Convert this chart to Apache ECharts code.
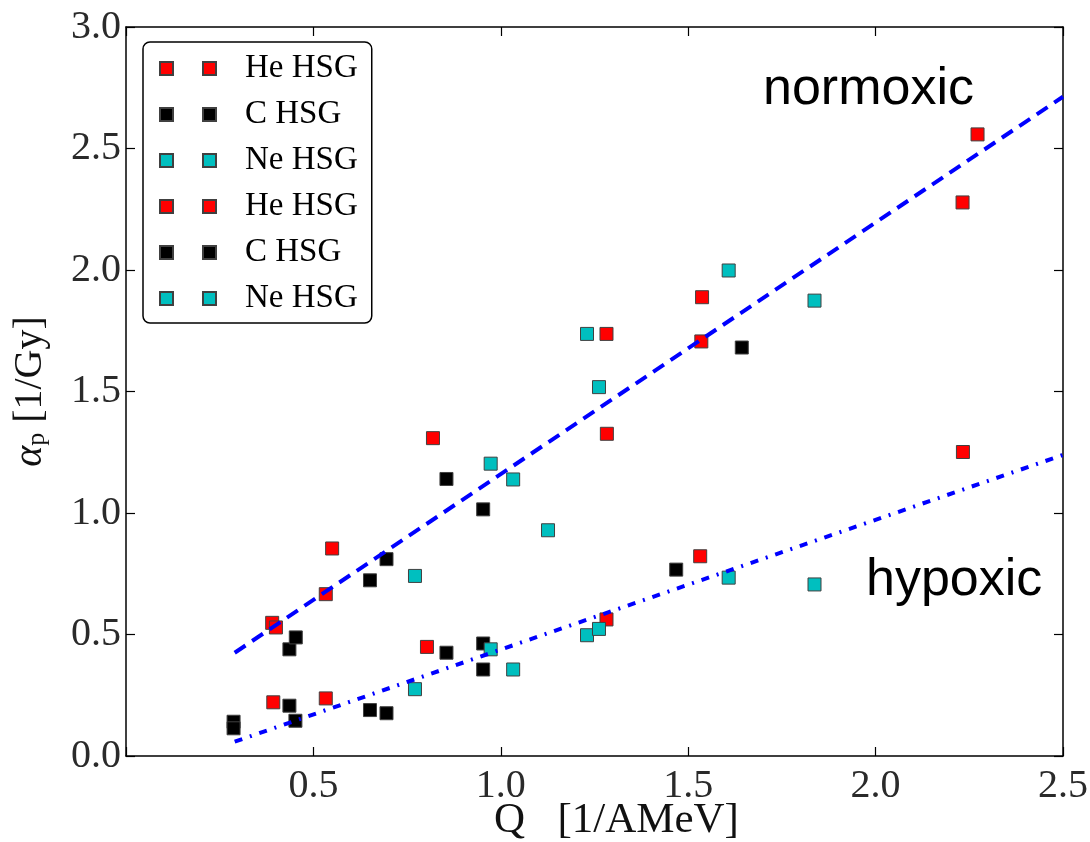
<!DOCTYPE html>
<html>
<head>
<meta charset="utf-8">
<script src="https://cdn.jsdelivr.net/npm/echarts@6/dist/echarts.min.js"></script>
<style>html,body{margin:0;padding:0;background:#fff}#c{width:1090px;height:842px}</style>
</head>
<body>
<div id="c"></div>
<script>
// ---- data ----
const heNormQ = [0.390, 0.400, 0.533, 0.550, 0.819, 1.282, 1.283, 1.535, 1.537, 2.232, 2.272];
const heNormA = [0.548, 0.529, 0.666, 0.854, 1.308, 1.737, 1.326, 1.706, 1.888, 2.278, 2.558];
const cNormQ  = [0.436, 0.453, 0.651, 0.695, 0.855, 0.953, 1.643];
const cNormA  = [0.439, 0.488, 0.723, 0.810, 1.140, 1.015, 1.681];
const neNormQ = [0.771, 0.973, 1.033, 1.126, 1.230, 1.262, 1.608, 1.837];
const neNormA = [0.741, 1.203, 1.138, 0.929, 1.737, 1.518, 1.998, 1.874];

const heHypQ = [0.393, 0.533, 0.803, 1.282, 1.532, 2.233];
const heHypA = [0.221, 0.237, 0.449, 0.562, 0.822, 1.251];
const cHypQ  = [0.287, 0.287, 0.436, 0.452, 0.651, 0.695, 0.855, 0.953, 0.953, 1.468];
const cHypA  = [0.141, 0.114, 0.207, 0.145, 0.189, 0.176, 0.425, 0.463, 0.356, 0.767];
const neHypQ = [0.771, 0.973, 1.033, 1.230, 1.262, 1.608, 1.837];
const neHypA = [0.275, 0.439, 0.356, 0.497, 0.523, 0.734, 0.706];

const normFitQ = [0.29, 2.5];
const normFitA = [0.425, 2.713];
const hypFitQ  = [0.29, 2.5];
const hypFitA  = [0.059, 1.239];

const legendNames = ['He HSG', 'C HSG', 'Ne HSG', 'He HSG\u200b', 'C HSG\u200b', 'Ne HSG\u200b'];
const xTicks = [0, 0.5, 1.0, 1.5, 2.0, 2.5];
const yTicks = [0, 0.5, 1.0, 1.5, 2.0, 2.5, 3.0];

const zip = (a, b) => a.map((v, i) => [v, b[i]]);
const RED = '#ff0000', BLACK = '#000000', CYAN = '#00bfbf';
const serif = '"Liberation Serif", "DejaVu Serif", serif';

function scat(name, q, a, color) {
  return {
    name: name, type: 'scatter', data: zip(q, a),
    symbol: 'rect', symbolSize: 13, z: 3,
    itemStyle: { color: color, borderColor: '#404040', borderWidth: 1, opacity: 1 },
    emphasis: { disabled: true }
  };
}
function fit(q, a, pattern) {
  return {
    type: 'line', data: zip(q, a), symbol: 'none', z: 5, silent: true,
    lineStyle: { color: '#0000ff', width: 4, type: pattern, cap: 'butt' }
  };
}

const axisCommon = {
  axisLine: { show: true, onZero: false, lineStyle: { color: '#000', width: 1.5 } },
  axisTick: { show: true, inside: true, length: 9, lineStyle: { color: '#000', width: 1.2 } },
  splitLine: { show: false }
};

const chart = echarts.init(document.getElementById('c'), null, { renderer: 'canvas' });
chart.setOption({
  backgroundColor: '#ffffff',
  animation: false,
  grid: { left: 126, right: 27, top: 27, bottom: 86, containLabel: false, outerBoundsMode: 'none' },
  xAxis: [
    Object.assign({}, axisCommon, {
      type: 'value', position: 'bottom', min: xTicks[0], max: xTicks[xTicks.length - 1], interval: 0.5,
      axisLabel: { fontFamily: serif, fontSize: 40, color: '#2a2a2a', margin: 10,
        formatter: v => (v === 0 ? '' : v.toFixed(1)) },
      name: 'Q   [1/AMeV]', nameLocation: 'middle', nameGap: 43, nameMoveOverlap: false,
      nameTextStyle: { fontFamily: serif, fontSize: 43, color: '#111', padding: [0, 0, 0, 44] }
    }),
    Object.assign({}, axisCommon, {
      type: 'value', position: 'top', min: xTicks[0], max: xTicks[xTicks.length - 1], interval: 0.5,
      axisLabel: { show: false }
    })
  ],
  yAxis: [
    Object.assign({}, axisCommon, {
      type: 'value', position: 'left', min: yTicks[0], max: yTicks[yTicks.length - 1], interval: 0.5,
      axisLabel: { fontFamily: serif, fontSize: 40, color: '#2a2a2a', margin: 5,
        formatter: v => v.toFixed(1) },
      name: '{a|α}{p|p} [1/Gy]', nameLocation: 'middle', nameGap: 76, nameRotate: 90, nameMoveOverlap: false,
      nameTextStyle: { fontFamily: serif, fontSize: 40, color: '#111',
        rich: {
          a: { fontFamily: serif, fontSize: 40, fontStyle: 'italic', color: '#111' },
          p: { fontFamily: serif, fontSize: 26, color: '#111', padding: [14, 0, 0, 0] }
        } }
    }),
    Object.assign({}, axisCommon, {
      type: 'value', position: 'right', min: yTicks[0], max: yTicks[yTicks.length - 1], interval: 0.5,
      axisLabel: { show: false }
    })
  ],
  legend: {
    data: legendNames, orient: 'vertical', left: 143, top: 42,
    selectedMode: false,
    icon: 'path://M0,0h13v13h-13z M43,0h13v13h-13z',
    itemWidth: 56, itemHeight: 13, itemGap: 13,
    padding: [10, 14, 8, 16],
    backgroundColor: '#fff', borderColor: '#000', borderWidth: 1.5, borderRadius: 7,
    textStyle: { fontFamily: serif, fontSize: 33, color: '#000', lineHeight: 32, padding: [0, 0, 0, 24] }
  },
  graphic: [
    { type: 'text', left: 763, top: 64, style: { text: 'normoxic', fontFamily: '"Liberation Sans", Arial, sans-serif', fontSize: 52, fill: '#000' } },
    { type: 'text', left: 866, top: 555, style: { text: 'hypoxic', fontFamily: '"Liberation Sans", Arial, sans-serif', fontSize: 52, fill: '#000' } }
  ],
  series: [
    scat(legendNames[0], heNormQ, heNormA, RED),
    scat(legendNames[1], cNormQ, cNormA, BLACK),
    scat(legendNames[2], neNormQ, neNormA, CYAN),
    scat(legendNames[3], heHypQ, heHypA, RED),
    scat(legendNames[4], cHypQ, cHypA, BLACK),
    scat(legendNames[5], neHypQ, neHypA, CYAN),
    fit(normFitQ, normFitA, [13, 8]),
    fit(hypFitQ, hypFitA, [8, 8, 2, 8])
  ]
});
</script>
</body>
</html>
